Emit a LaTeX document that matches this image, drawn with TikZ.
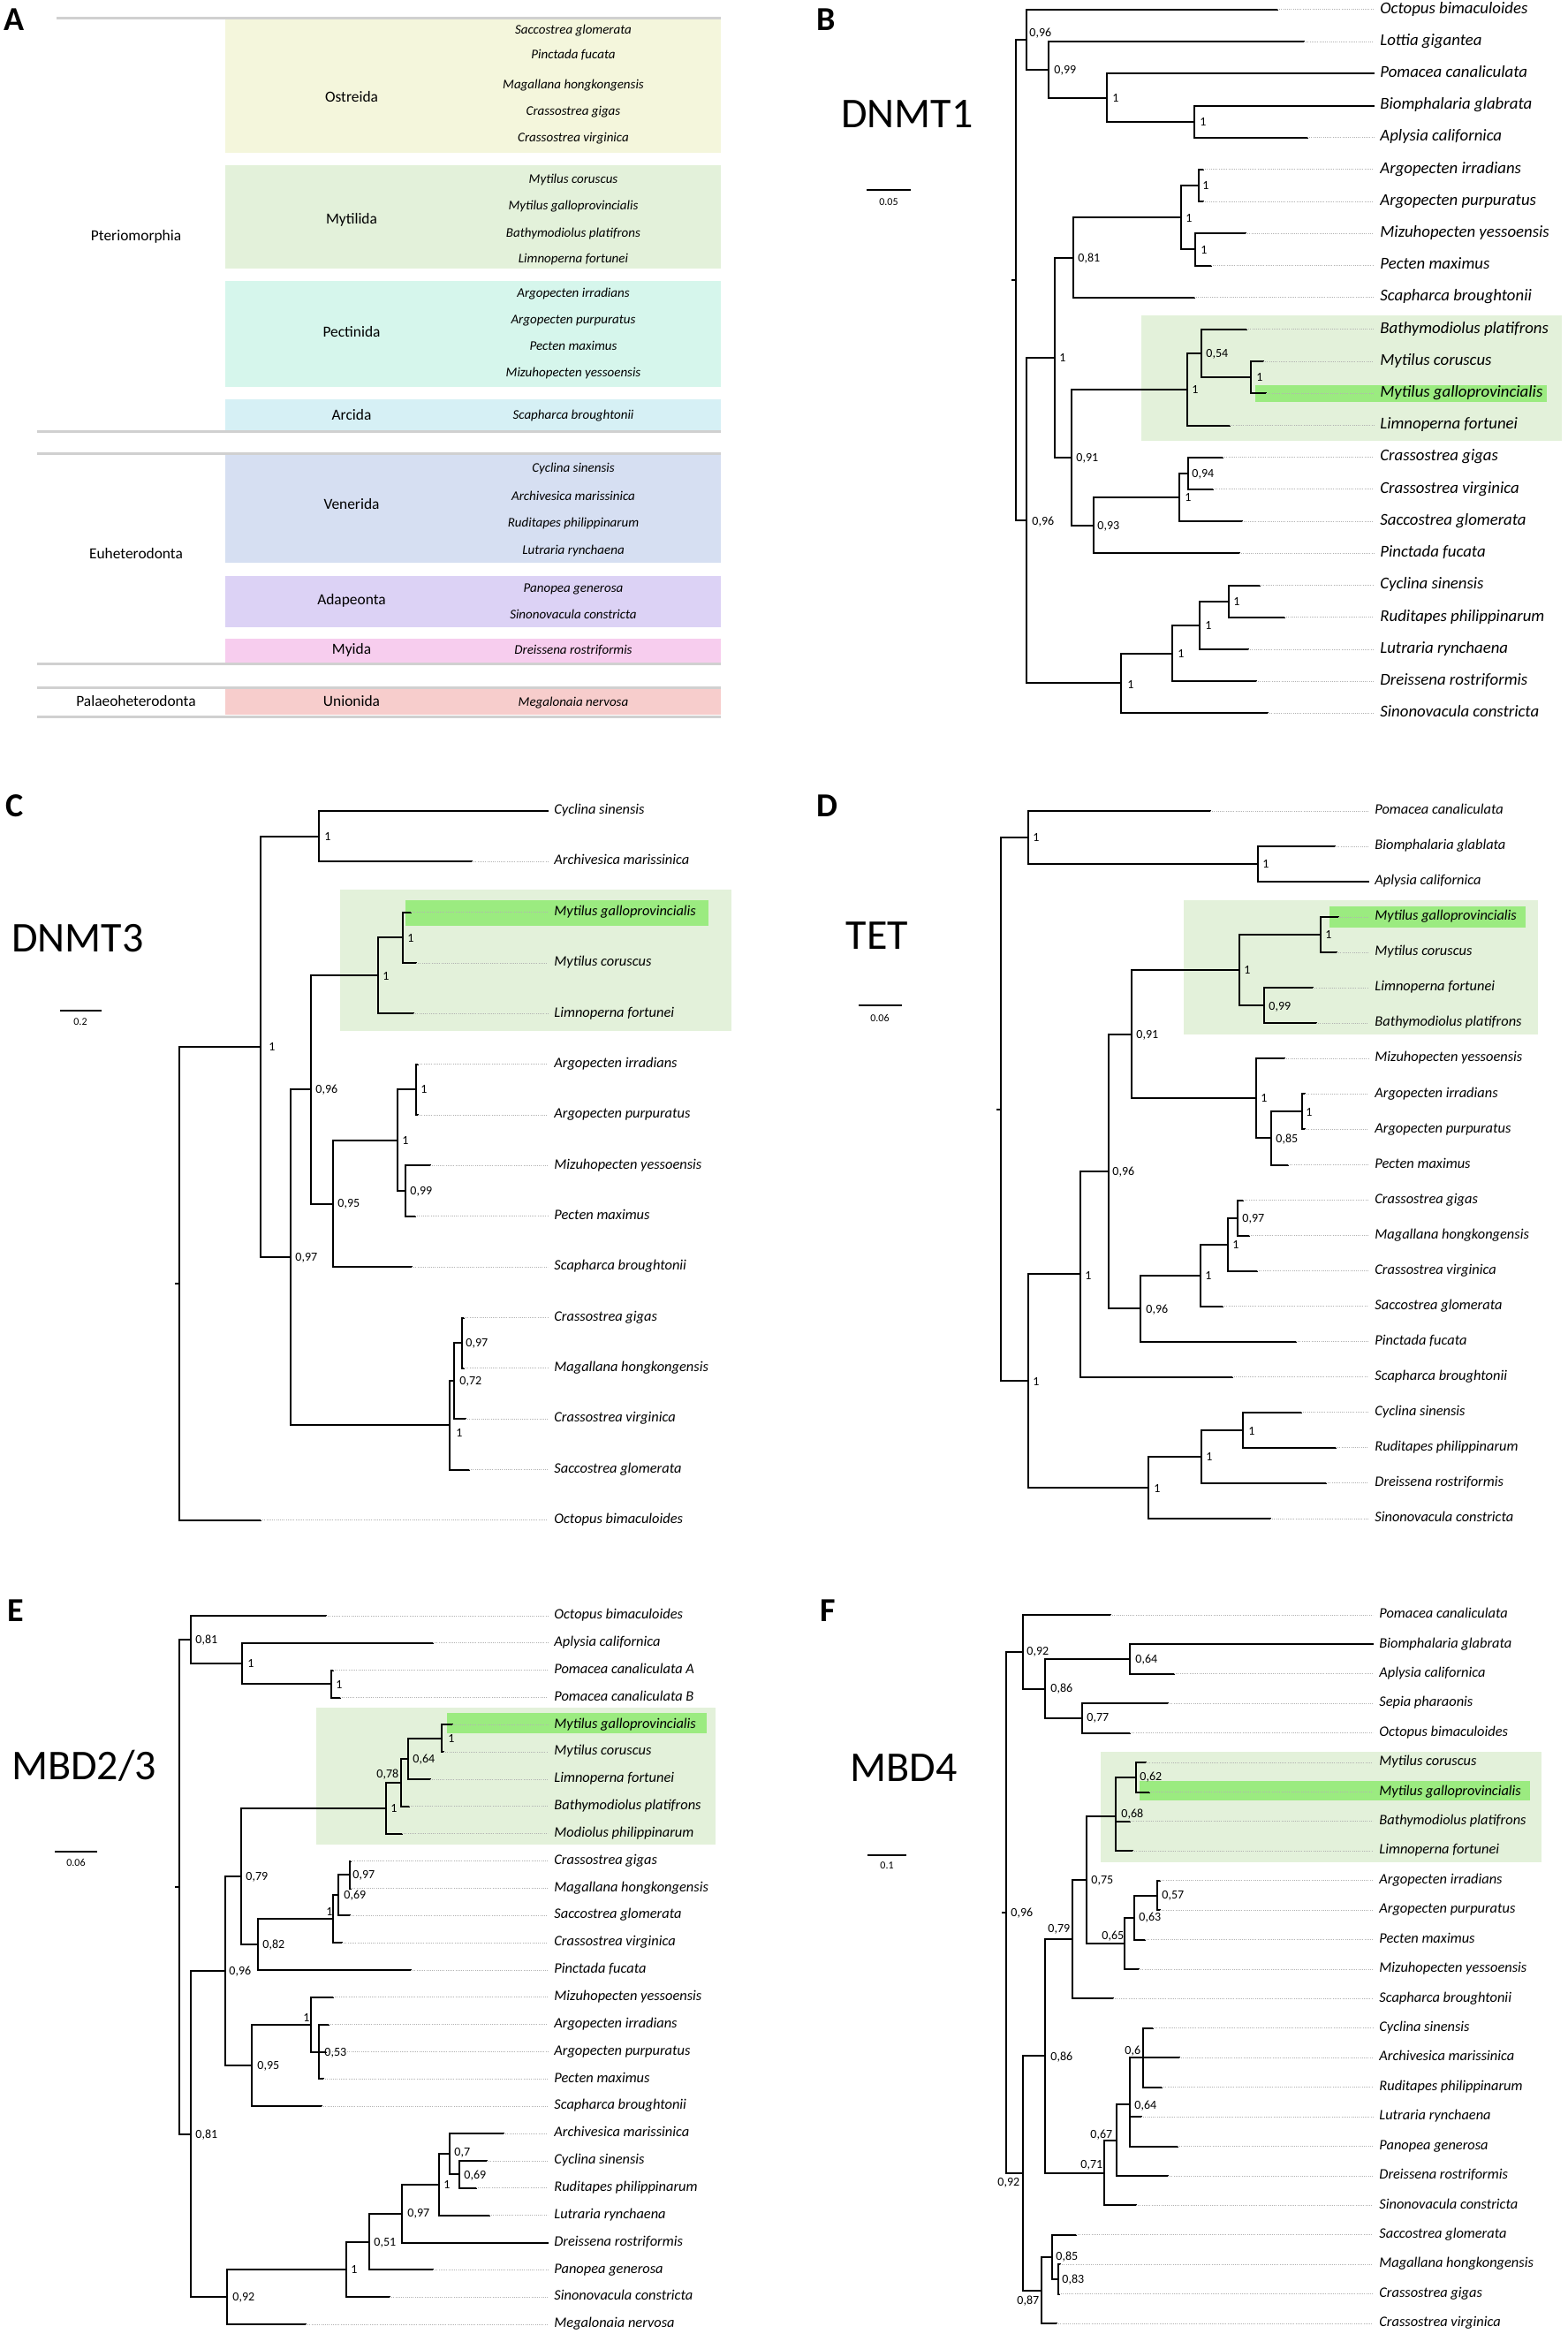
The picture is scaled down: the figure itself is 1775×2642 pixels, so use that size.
\documentclass[tikz,border=0pt]{standalone}
\usepackage{fontspec}
\setmainfont{Carlito}

\definecolor{ostreida}{HTML}{F4F6DC}
\definecolor{mytilida}{HTML}{E3F1DA}
\definecolor{pectinida}{HTML}{D6F6EC}
\definecolor{arcida}{HTML}{D6F0F5}
\definecolor{venerida}{HTML}{D6DFF2}
\definecolor{adapeonta}{HTML}{DCD2F5}
\definecolor{myida}{HTML}{F7CDEE}
\definecolor{unionida}{HTML}{F7CDCC}
\definecolor{cladebg}{HTML}{E3F1DA}
\definecolor{mgalbg}{HTML}{9BEB80}
\definecolor{sepgray}{HTML}{D0D0D0}

\newcommand{\taxfont}{\fontsize{8.2}{9}\selectfont\itshape}
\newcommand{\taxBfont}{\fontsize{9.4}{10}\selectfont\itshape}
\newcommand{\specfont}{\fontsize{7.5}{8}\selectfont\itshape}
\newcommand{\ordfont}{\fontsize{8.7}{9}\selectfont}
\newcommand{\supfont}{\fontsize{7}{8}\selectfont}
\newcommand{\genefont}{\fontsize{24}{26}\selectfont}
\newcommand{\panelfont}{\fontsize{19}{20}\selectfont\bfseries}
\newcommand{\barfont}{\fontsize{6}{7}\selectfont}

\tikzset{
  branch/.style={line width=1pt, line cap=rect},
  leader/.style={line width=0.5pt, gray!60, dash pattern=on 0.5pt off 0.6pt},
  taxon/.style={anchor=west, inner sep=0pt, font=\taxfont, text height=5.2pt, text depth=1.6pt},
  taxonB/.style={anchor=west, inner sep=0pt, font=\taxBfont, text height=6pt, text depth=1.8pt},
  support/.style={anchor=west, inner sep=0pt, font=\supfont, text height=4.4pt, text depth=0pt},
  gene/.style={font=\genefont, inner sep=0pt, text height=15.5pt, text depth=0pt},
  panel/.style={font=\panelfont, inner sep=0pt, text height=12.2pt, text depth=0pt},
  scalebar/.style={line width=1pt},
  bartext/.style={font=\barfont, inner sep=0pt},
  sepline/.style={draw=sepgray, line width=1.5pt},
  order/.style={font=\ordfont, inner sep=0pt, text height=5.6pt, text depth=1.7pt},
  spec/.style={font=\specfont, inner sep=0pt, text height=4.8pt, text depth=1.5pt},
}

% name, parent x, x, joint y, top y, bottom y, label x, label y, label
\newcommand{\clade}[9]{%
  \draw[branch] (#2,#4) -- (#3,#4) (#3,#5) -- (#3,#6);
  \node[support] (#1) at (#7,#8) {#9};}

\begin{document}
\begin{tikzpicture}[x=0.5pt,y=-0.5pt]
\fill[white] (0,0) rectangle (1775,2642);
\useasboundingbox (0,0) rectangle (1775,2642);

% ---------------- A
\node[panel] (pA) at (16,22) {A};
\fill[ostreida] (255,22) rectangle (816,173);
\fill[mytilida] (255,187) rectangle (816,304);
\fill[pectinida] (255,318) rectangle (816,438);
\fill[arcida] (255,452) rectangle (816,488);
\fill[venerida] (255,515) rectangle (816,637);
\fill[adapeonta] (255,652) rectangle (816,710);
\fill[myida] (255,723) rectangle (816,750);
\fill[unionida] (255,778) rectangle (816,809);
\draw[sepline] (64,21) -- (816,21);
\foreach \y in {489,514,751,778,811}
  \draw[sepline] (42,\y) -- (816,\y);
\foreach \t/\y in {Ostreida/112, Mytilida/250, Pectinida/378, Arcida/472,
    Venerida/573, Adapeonta/681, Myida/737, Unionida/796}
  \node[order] (o-\t) at (398,\y) {\t};
\foreach \t/\y in {Pteriomorphia/269, Euheterodonta/629, Palaeoheterodonta/796}
  \node[order] (g-\t) at (154,\y) {\t};
\foreach \t/\y [count=\i] in {Saccostrea glomerata/35, Pinctada fucata/63,
    Magallana hongkongensis/97, Crassostrea gigas/127, Crassostrea virginica/157,
    Mytilus coruscus/204, Mytilus galloprovincialis/234, Bathymodiolus platifrons/265,
    Limnoperna fortunei/294, Argopecten irradians/333, Argopecten purpuratus/363,
    Pecten maximus/393, Mizuhopecten yessoensis/423, Scapharca broughtonii/471,
    Cyclina sinensis/531, Archivesica marissinica/563, Ruditapes philippinarum/593,
    Lutraria rynchaena/624, Panopea generosa/667, Sinonovacula constricta/697,
    Dreissena rostriformis/737, Megalonaia nervosa/796}
  \node[spec] (a\i) at (649,\y) {\t};

% ---------------- B  DNMT1
\node[panel] (pB) at (935,22) {B};
\node[gene] (gB) at (1027,129) {DNMT1};
\draw[scalebar] (981,215) -- (1031,215);
\node[bartext] (sB) at (1006,229) {0.05};
\fill[cladebg] (1292,357) rectangle (1768,499);
\fill[mgalbg] (1421,436) rectangle (1751,455);
\foreach \t [count=\i] in {Octopus bimaculoides, Lottia gigantea, Pomacea canaliculata,
    Biomphalaria glabrata, Aplysia californica, Argopecten irradians, Argopecten purpuratus,
    Mizuhopecten yessoensis, Pecten maximus, Scapharca broughtonii, Bathymodiolus platifrons,
    Mytilus coruscus, Mytilus galloprovincialis, Limnoperna fortunei, Crassostrea gigas,
    Crassostrea virginica, Saccostrea glomerata, Pinctada fucata, Cyclina sinensis,
    Ruditapes philippinarum, Lutraria rynchaena, Dreissena rostriformis, Sinonovacula constricta}
  \node[taxonB] (B\i) at (1562,{11+36.2*(\i-1)}) {\t};
\foreach \i/\xa/\xb in {1/1162/1446, 2/1187/1476, 3/1253/1555, 4/1352/1555, 5/1352/1480,
    6/1357/1362, 7/1357/1362, 8/1353/1410, 9/1353/1371, 10/1215/1352, 11/1360/1411,
    12/1416/1430, 13/1416/1433, 14/1344/1392, 15/1345/1384, 16/1345/1373, 17/1335/1406,
    18/1238/1403, 19/1391/1426, 20/1391/1454, 21/1358/1413, 22/1327/1422, 23/1269/1435}{
  \draw[branch] (\xa,0 |- B\i.west) -- (\xb,0 |- B\i.west);
  \draw[leader] (\xb,0 |- B\i.west) -- ([xshift=-3.5pt]B\i.west);
}
\draw[branch] (1146,317) -- (1150,317) (1150,44.95) -- (1150,589.1);
\clade{bA}{1150}{1162}{44.95}{11}{78.9}{1165}{37}{0,96}
\clade{bB}{1162}{1187}{78.9}{47.2}{110.55}{1193}{79}{0,99}
\clade{bC}{1187}{1253}{110.55}{83.4}{137.7}{1259}{111}{1}
\clade{bD}{1253}{1352}{137.7}{119.6}{155.8}{1358}{138}{1}
\clade{bE}{1150}{1162}{589.1}{404.7}{773.45}{1168}{590}{0,96}
\clade{bF}{1162}{1194}{404.7}{291.55}{517.8}{1199}{405}{1}
\clade{bG}{1194}{1215}{291.55}{246.3}{336.8}{1220}{292}{0,81}
\clade{bH}{1215}{1337}{246.3}{210.1}{282.5}{1342}{247}{1}
\clade{bI}{1337}{1357}{210.1}{192}{228.2}{1361}{210}{1}
\clade{bJ}{1337}{1353}{282.5}{264.4}{300.6}{1359}{283}{1}
\clade{bK}{1194}{1213}{517.8}{440.9}{594.7}{1218}{518}{0,91}
\clade{bL}{1213}{1344}{440.9}{400.15}{481.6}{1349}{441}{1}
\clade{bM}{1344}{1360}{400.15}{373}{427.3}{1365}{400}{0,54}
\clade{bN}{1360}{1416}{427.3}{409.2}{445.4}{1422}{427}{1}
\clade{bO}{1213}{1238}{594.7}{563.05}{626.4}{1242}{595}{0,93}
\clade{bP}{1238}{1335}{563.05}{535.9}{590.2}{1341}{563}{1}
\clade{bQ}{1335}{1345}{535.9}{517.8}{554}{1349}{536}{0,94}
\clade{bS}{1162}{1269}{773.45}{739.5}{807.4}{1276}{775}{1}
\clade{bT}{1269}{1327}{739.5}{707.85}{771.2}{1333}{740}{1}
\clade{bU}{1327}{1358}{707.85}{680.7}{735}{1364}{708}{1}
\clade{bV}{1358}{1391}{680.7}{662.6}{698.8}{1396}{681}{1}

% ---------------- C  DNMT3
\node[panel] (pC) at (17,912) {C};
\node[gene] (gC) at (88,1062) {DNMT3};
\draw[scalebar] (68,1144) -- (115,1144);
\node[bartext] (sC) at (91,1157) {0.2};
\fill[cladebg] (385,1007) rectangle (828,1167);
\fill[mgalbg] (459,1019) rectangle (802,1048);
\foreach \t [count=\i] in {Cyclina sinensis, Archivesica marissinica, Mytilus galloprovincialis,
    Mytilus coruscus, Limnoperna fortunei, Argopecten irradians, Argopecten purpuratus,
    Mizuhopecten yessoensis, Pecten maximus, Scapharca broughtonii, Crassostrea gigas,
    Magallana hongkongensis, Crassostrea virginica, Saccostrea glomerata, Octopus bimaculoides}
  \node[taxon] (C\i) at (627,{918+57.35*(\i-1)}) {\t};
\foreach \i/\xa/\xb in {1/361/620, 2/361/534, 3/456/465, 4/456/471, 5/428/468, 6/471/473,
    7/471/473, 8/459/487, 9/459/470, 10/377/466, 11/523/525, 12/523/525, 13/514/527,
    14/509/531, 15/203/295}{
  \draw[branch] (\xa,0 |- C\i.west) -- (\xb,0 |- C\i.west);
  \draw[leader] (\xb,0 |- C\i.west) -- ([xshift=-3.5pt]C\i.west);
}
\draw[branch] (199,1453) -- (203,1453) (203,1185.1) -- (203,1720.9);
\clade{cA}{203}{295}{1185.1}{946.7}{1423.4}{304}{1185}{1}
\clade{cB}{295}{361}{946.7}{918}{975.35}{367}{947}{1}
\clade{cC}{295}{329}{1423.4}{1233.4}{1613.4}{334}{1423}{0,97}
\clade{cD}{329}{352}{1233.4}{1104.4}{1362.5}{357}{1233}{0,96}
\clade{cE}{352}{428}{1104.4}{1061.4}{1147.4}{433}{1105}{1}
\clade{cF}{428}{456}{1061.4}{1032.7}{1090.05}{461}{1062}{1}
\clade{cG}{352}{377}{1362.5}{1290.8}{1434.15}{382}{1362}{0,95}
\clade{cH}{377}{450}{1290.8}{1233.4}{1348.1}{455}{1291}{1}
\clade{cI}{450}{471}{1233.4}{1204.75}{1262.1}{476}{1233}{1}
\clade{cJ}{450}{459}{1348.1}{1319.45}{1376.8}{464}{1348}{0,99}
\clade{cK}{329}{509}{1613.4}{1563.2}{1663.55}{516}{1622}{1}
\clade{cL}{509}{514}{1563.2}{1520.2}{1606.2}{520}{1563}{0,72}
\clade{cM}{514}{523}{1520.2}{1491.5}{1548.85}{527}{1520}{0,97}

% ---------------- D  TET
\node[panel] (pD) at (936,912) {D};
\node[gene] (gD) at (993,1059) {TET};
\draw[scalebar] (972,1138) -- (1021,1138);
\node[bartext] (sD) at (996,1152) {0.06};
\fill[cladebg] (1340,1019) rectangle (1741,1171);
\fill[mgalbg] (1505,1026) rectangle (1727,1050);
\foreach \t [count=\i] in {Pomacea canaliculata, Biomphalaria glablata, Aplysia californica,
    Mytilus galloprovincialis, Mytilus coruscus, Limnoperna fortunei, Bathymodiolus platifrons,
    Mizuhopecten yessoensis, Argopecten irradians, Argopecten purpuratus, Pecten maximus,
    Crassostrea gigas, Magallana hongkongensis, Crassostrea virginica, Saccostrea glomerata,
    Pinctada fucata, Scapharca broughtonii, Cyclina sinensis, Ruditapes philippinarum,
    Dreissena rostriformis, Sinonovacula constricta}
  \node[taxon] (D\i) at (1556,{918+40.05*(\i-1)}) {\t};
\foreach \i/\xa/\xb in {1/1164/1370, 2/1424/1511, 3/1424/1549, 4/1495/1515, 5/1495/1513,
    6/1431/1486, 7/1431/1490, 8/1422/1454, 9/1474/1477, 10/1474/1477, 11/1439/1458,
    12/1401/1407, 13/1401/1414, 14/1390/1423, 15/1359/1384, 16/1291/1467, 17/1223/1395,
    18/1407/1473, 19/1407/1512, 20/1360/1501, 21/1300/1438}{
  \draw[branch] (\xa,0 |- D\i.west) -- (\xb,0 |- D\i.west);
  \draw[leader] (\xb,0 |- D\i.west) -- ([xshift=-3.5pt]D\i.west);
}
\draw[branch] (1129,1255.6) -- (1133,1255.6) (1133,948.05) -- (1133,1563.2);
\clade{dA}{1133}{1164}{948.05}{918}{978.1}{1169}{948}{1}
\clade{dB}{1164}{1424}{978.1}{958.05}{998.1}{1429}{978}{1}
\clade{dC}{1133}{1164}{1563.2}{1442.4}{1683.95}{1169}{1564}{1}
\clade{dD}{1164}{1223}{1442.4}{1326}{1558.8}{1228}{1444}{1}
\clade{dE}{1223}{1255}{1326}{1170.8}{1481.2}{1259}{1326}{0,96}
\clade{dF}{1255}{1281}{1170.8}{1098.25}{1243.4}{1286}{1171}{0,91}
\clade{dG}{1281}{1403}{1098.25}{1058.2}{1138.3}{1408}{1098}{1}
\clade{dH}{1403}{1495}{1058.2}{1038.15}{1078.2}{1500}{1058}{1}
\clade{dI}{1403}{1431}{1138.3}{1118.25}{1158.3}{1436}{1139}{0,99}
\clade{dJ}{1281}{1422}{1243.4}{1198.35}{1288.45}{1427}{1243}{1}
\clade{dK}{1422}{1439}{1288.45}{1258.4}{1318.5}{1444}{1289}{0,85}
\clade{dL}{1439}{1474}{1258.4}{1238.4}{1278.45}{1478}{1259}{1}
\clade{dM}{1255}{1291}{1481.2}{1443.65}{1518.75}{1297}{1482}{0,96}
\clade{dN}{1291}{1359}{1443.65}{1408.6}{1478.7}{1364}{1444}{1}
\clade{dO}{1359}{1390}{1408.6}{1378.6}{1438.65}{1395}{1409}{1}
\clade{dP}{1390}{1401}{1378.6}{1358.55}{1398.6}{1406}{1379}{0,97}
\clade{dQ}{1164}{1300}{1683.95}{1648.9}{1719}{1306}{1685}{1}
\clade{dR}{1300}{1360}{1648.9}{1618.9}{1678.95}{1365}{1649}{1}
\clade{dS}{1360}{1407}{1618.9}{1598.85}{1638.9}{1413}{1620}{1}

% ---------------- E  MBD2/3
\node[panel] (pE) at (18,1823) {E};
\node[gene] (gE) at (95,1999) {MBD2/3};
\draw[scalebar] (62,2096) -- (110,2096);
\node[bartext] (sE) at (86,2108) {0.06};
\fill[cladebg] (358,1933) rectangle (810,2088);
\fill[mgalbg] (506,1939) rectangle (800,1962);
\foreach \t [count=\i] in {Octopus bimaculoides, Aplysia californica, Pomacea canaliculata A,
    Pomacea canaliculata B, Mytilus galloprovincialis, Mytilus coruscus, Limnoperna fortunei,
    Bathymodiolus platifrons, Modiolus philippinarum, Crassostrea gigas, Magallana hongkongensis,
    Saccostrea glomerata, Crassostrea virginica, Pinctada fucata, Mizuhopecten yessoensis,
    Argopecten irradians, Argopecten purpuratus, Pecten maximus, Scapharca broughtonii,
    Archivesica marissinica, Cyclina sinensis, Ruditapes philippinarum, Lutraria rynchaena,
    Dreissena rostriformis, Panopea generosa, Sinonovacula constricta, Megalonaia nervosa}
  \node[taxon] (E\i) at (627,{1829+30.85*(\i-1)}) {\t};
\foreach \i/\xa/\xb in {1/216/369, 2/274/490, 3/375/377, 4/375/385, 5/500/512, 6/500/502,
    7/462/487, 8/454/463, 9/437/455, 10/396/397, 11/396/397, 12/383/396, 13/377/387,
    14/292/465, 15/352/377, 16/361/372, 17/361/369, 18/361/366, 19/285/364, 20/509/570,
    21/520/551, 22/520/539, 23/497/554, 24/455/620, 25/418/490, 26/392/441, 27/257/346}{
  \draw[branch] (\xa,0 |- E\i.west) -- (\xb,0 |- E\i.west);
  \draw[leader] (\xb,0 |- E\i.west) -- ([xshift=-3.5pt]E\i.west);
}
\draw[branch] (199,2135.75) -- (203,2135.75) (203,1856) -- (203,2415.5);
\clade{eA}{203}{216}{1856}{1829}{1883}{221}{1856}{0,81}
\clade{eB}{216}{274}{1883}{1859.85}{1906.1}{280}{1883}{1}
\clade{eC}{274}{375}{1906.1}{1890.7}{1921.55}{380}{1907}{1}
\clade{eD}{203}{216}{2415.5}{2231}{2600}{221}{2416}{0,81}
\clade{eE}{216}{255}{2231}{2124}{2338}{259}{2231}{0,96}
\clade{eF}{255}{273}{2124}{2046.9}{2201.1}{278}{2124}{0,79}
\clade{eG}{273}{437}{2046.9}{2018}{2075.8}{442}{2047}{1}
\clade{eH}{437}{454}{2018}{1991}{2044.95}{426}{2008}{0,78}
\clade{eI}{454}{462}{1991}{1967.8}{2014.1}{467}{1991}{0,64}
\clade{eJ}{462}{500}{1967.8}{1952.4}{1983.25}{507}{1968}{1}
\clade{eK}{273}{292}{2201.1}{2172.2}{2230.05}{297}{2201}{0,82}
\clade{eL}{292}{377}{2172.2}{2145.2}{2199.2}{369}{2164}{1}
\clade{eM}{377}{383}{2145.2}{2122.1}{2168.35}{389}{2145}{0,69}
\clade{eN}{383}{396}{2122.1}{2106.65}{2137.5}{399}{2122}{0,97}
\clade{eO}{255}{285}{2338}{2291.75}{2384.3}{291}{2338}{0,95}
\clade{eP}{285}{352}{2291.75}{2260.9}{2322.6}{343}{2284}{1}
\clade{eQ}{352}{361}{2322.6}{2291.75}{2353.45}{367}{2323}{0,53}
\clade{eR}{216}{257}{2600}{2568.9}{2631.1}{263}{2600}{0,92}
\clade{eS}{257}{392}{2568.9}{2537.6}{2600.25}{397}{2569}{1}
\clade{eT}{392}{418}{2537.6}{2505.8}{2569.4}{423}{2538}{0,51}
\clade{eU}{418}{455}{2505.8}{2473}{2538.55}{461}{2505}{0,97}
\clade{eV}{455}{497}{2473}{2438.3}{2507.7}{502}{2473}{1}
\clade{eW}{497}{509}{2438.3}{2415.15}{2461.4}{514}{2436}{0,7}
\clade{eX}{509}{520}{2461.4}{2446}{2476.85}{525}{2462}{0,69}

% ---------------- F  MBD4
\node[panel] (pF) at (937,1823) {F};
\node[gene] (gF) at (1023,2001) {MBD4};
\draw[scalebar] (982,2100) -- (1026,2100);
\node[bartext] (sF) at (1004,2112) {0.1};
\fill[cladebg] (1246,1983) rectangle (1745,2108);
\fill[mgalbg] (1290,2016) rectangle (1732,2038);
\foreach \t [count=\i] in {Pomacea canaliculata, Biomphalaria glabrata, Aplysia californica,
    Sepia pharaonis, Octopus bimaculoides, Mytilus coruscus, Mytilus galloprovincialis,
    Bathymodiolus platifrons, Limnoperna fortunei, Argopecten irradians, Argopecten purpuratus,
    Pecten maximus, Mizuhopecten yessoensis, Scapharca broughtonii, Cyclina sinensis,
    Archivesica marissinica, Ruditapes philippinarum, Lutraria rynchaena, Panopea generosa,
    Dreissena rostriformis, Sinonovacula constricta, Saccostrea glomerata,
    Magallana hongkongensis, Crassostrea gigas, Crassostrea virginica}
  \node[taxon] (F\i) at (1561,{1828+33.42*(\i-1)}) {\t};
\foreach \i/\xa/\xb in {1/1158/1257, 2/1279/1554, 3/1279/1329, 4/1225/1322, 5/1225/1279,
    6/1286/1297, 7/1286/1301, 8/1263/1279, 9/1263/1282, 10/1310/1313, 11/1310/1313,
    12/1284/1296, 13/1273/1289, 14/1214/1260, 15/1294/1305, 16/1294/1335, 17/1294/1315,
    18/1279/1292, 19/1279/1333, 20/1264/1322, 21/1250/1286, 22/1191/1218, 23/1198/1200,
    24/1198/1199, 25/1179/1196}{
  \draw[branch] (\xa,0 |- F\i.west) -- (\xb,0 |- F\i.west);
  \draw[leader] (\xb,0 |- F\i.west) -- ([xshift=-3.5pt]F\i.west);
}
\draw[branch] (1135,2164.9) -- (1139,2164.9) (1139,1869.8) -- (1139,2460);
\node[support] (fR) at (1144,2165) {0,96};
\clade{fA}{1139}{1158}{1869.8}{1828}{1911.6}{1162}{1869}{0,92}
\clade{fB}{1158}{1183}{1911.6}{1878.1}{1945}{1189}{1911}{0,86}
\clade{fC}{1183}{1279}{1878.1}{1861.42}{1894.84}{1285}{1878}{0,64}
\clade{fD}{1183}{1225}{1945}{1928.26}{1961.68}{1230}{1944}{0,77}
\clade{fE}{1139}{1158}{2460}{2327.4}{2592.5}{1129}{2470}{0,92}
\clade{fF}{1158}{1183}{2327.4}{2195.2}{2459.5}{1189}{2328}{0,86}
\clade{fG}{1183}{1214}{2195.2}{2127.9}{2262.46}{1186}{2183}{0,79}
\clade{fH}{1214}{1230}{2127.9}{2056}{2199.8}{1235}{2128}{0,75}
\clade{fI}{1230}{1263}{2056}{2011.8}{2095.36}{1269}{2053}{0,68}
\clade{fJ}{1263}{1286}{2011.8}{1995.1}{2028.52}{1290}{2011}{0,62}
\clade{fK}{1230}{1273}{2199.8}{2170.6}{2229.04}{1247}{2191}{0,65}
\clade{fL}{1273}{1284}{2170.6}{2145.5}{2195.62}{1289}{2170}{0,63}
\clade{fM}{1284}{1310}{2145.5}{2128.78}{2162.2}{1315}{2145}{0,57}
\clade{fN}{1183}{1250}{2459.5}{2422.5}{2496.4}{1223}{2450}{0,71}
\clade{fO}{1250}{1264}{2422.5}{2382}{2462.98}{1234}{2416}{0,67}
\clade{fP}{1264}{1279}{2382}{2329.3}{2429.56}{1284}{2383}{0,64}
\clade{fQ}{1279}{1294}{2329.3}{2295.88}{2362.72}{1273}{2321}{0,6}
\clade{fS}{1158}{1179}{2592.5}{2554.9}{2630.08}{1151}{2604}{0,87}
\clade{fT}{1179}{1191}{2554.9}{2529.82}{2580}{1195}{2554}{0,85}
\clade{fU}{1191}{1198}{2580}{2563.24}{2596.66}{1202}{2580}{0,83}
\end{tikzpicture}
\end{document}
